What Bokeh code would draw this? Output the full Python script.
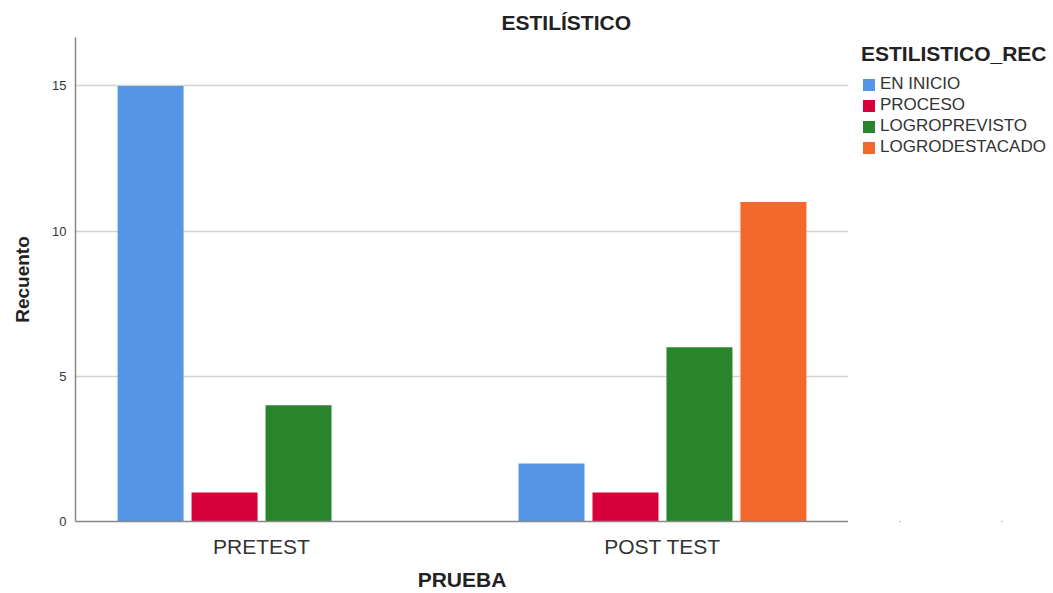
from bokeh.plotting import figure
from bokeh.layouts import row
from bokeh.models import (ColumnDataSource, FactorRange, Range1d, SingleIntervalTicker,
                          Legend, LegendItem)
from bokeh.transform import dodge
from bokeh.embed import file_html
from bokeh.resources import INLINE

categories = ["PRETEST", "POST TEST"]
series = ["EN INICIO", "PROCESO", "LOGROPREVISTO", "LOGRODESTACADO"]
en_inicio = [15, 2]
proceso = [1, 1]
logro_previsto = [4, 6]
logro_destacado = [0, 11]
colors = ["#5596E6", "#D6003A", "#28852B", "#F2692B"]

FONT = "Liberation Sans"

src = ColumnDataSource(dict(cat=categories, s0=en_inicio, s1=proceso,
                            s2=logro_previsto, s3=logro_destacado))

p = figure(width=848, height=593, output_backend="svg", toolbar_location=None,
           x_range=FactorRange(*categories, range_padding=-0.036,
                               range_padding_units="absolute"),
           y_range=Range1d(0, 16.67),
           min_border_left=75, min_border_right=0, min_border_top=37,
           min_border_bottom=68)
p.outline_line_color = None

p.title.text = "ESTILÍSTICO"
p.title.align = "left"
p.title.offset = 426
p.title.standoff = 7
p.title.text_font = FONT
p.title.text_font_style = "bold"
p.title.text_font_size = "21px"
p.title.text_color = "#222222"

pitch = 0.1845
bw = 0.1646
offsets = [-1.5 * pitch, -0.5 * pitch, 0.5 * pitch, 1.5 * pitch]
for i, col in enumerate(colors):
    p.vbar(x=dodge("cat", offsets[i], range=p.x_range), top=f"s{i}", width=bw,
           source=src, fill_color=col, line_color=None)

# axes
p.xaxis.major_label_text_font = FONT
p.xaxis.major_label_text_font_size = "21px"
p.xaxis.major_label_text_color = "#333333"
p.xaxis.major_label_standoff = 13
p.xaxis.major_tick_out = 0
p.xaxis.major_tick_in = 0
p.xaxis.major_tick_line_color = None
p.xaxis.minor_tick_line_color = None
p.xaxis.axis_line_color = "#888888"
p.xaxis.axis_line_width = 1.5
p.xaxis.axis_label = "PRUEBA"
p.xaxis.axis_label_text_font = FONT
p.xaxis.axis_label_text_font_style = "bold"
p.xaxis.axis_label_text_font_size = "21px"
p.xaxis.axis_label_text_color = "#222222"
p.xaxis.axis_label_standoff = 7

p.yaxis.ticker = SingleIntervalTicker(interval=5)
p.yaxis.major_label_text_font = FONT
p.yaxis.major_label_text_font_size = "13px"
p.yaxis.major_label_text_color = "#333333"
p.yaxis.major_label_standoff = 5
p.yaxis.major_tick_out = 0
p.yaxis.major_tick_in = 0
p.yaxis.major_tick_line_color = None
p.yaxis.minor_tick_line_color = None
p.yaxis.axis_line_color = "#888888"
p.yaxis.axis_line_width = 1.5
p.yaxis.axis_label = "Recuento"
p.yaxis.axis_label_text_font = FONT
p.yaxis.axis_label_text_font_style = "bold"
p.yaxis.axis_label_text_font_size = "19px"
p.yaxis.axis_label_text_color = "#222222"
p.yaxis.axis_label_standoff = 16

p.xgrid.grid_line_color = None
p.ygrid.grid_line_color = "#D2D2D2"
p.ygrid.grid_line_width = 1.5

# legend panel (separate figure to the right); its proxy bars use the same data
# with zero height and outside its y range, so only the legend is visible
lg = figure(width=205, height=593, output_backend="svg", toolbar_location=None,
            x_range=FactorRange(*categories), y_range=Range1d(100, 101),
            x_axis_location=None, y_axis_location=None, min_border=0)
lg.outline_line_color = None
lg.xgrid.visible = False
lg.ygrid.visible = False
items = []
for i, (name, col) in enumerate(zip(series, colors)):
    r = lg.vbar(x="cat", top=f"s{i}", bottom=f"s{i}", width=0.01, source=src,
                fill_color=col, line_color=None)
    items.append(LegendItem(label=name, renderers=[r]))

legend = Legend(items=items, location=(13, 364), title="ESTILISTICO_REC",
                title_text_font=FONT, title_text_font_style="bold",
                title_text_font_size="21px", title_text_color="#222222",
                title_standoff=8,
                label_text_font=FONT, label_text_font_size="17px",
                label_text_color="#333333", glyph_width=15, glyph_height=15,
                label_standoff=4, label_height=15, spacing=1, padding=0, margin=0,
                border_line_color=None, background_fill_alpha=0)
lg.add_layout(legend, "center")

layout = row(p, lg)
open("out.html", "w").write(file_html(layout, INLINE))
